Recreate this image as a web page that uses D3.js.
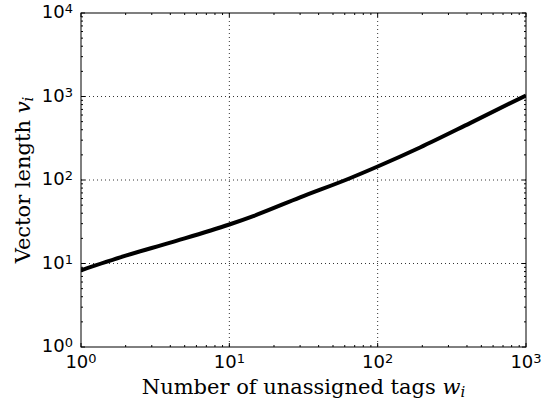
<!DOCTYPE html>
<html>
<head>
<meta charset="utf-8">
<script src="https://cdn.jsdelivr.net/npm/d3@7"></script>
<style>
  html, body { margin: 0; padding: 0; background: #fff; }
  svg { display: block; }
</style>
</head>
<body>
<svg id="chart" width="552" height="409"></svg>
<script>
// ---- data ----
const wValues = [1, 2, 4, 10, 14.5, 30, 65, 100, 193, 420, 1000];
const vValues = [8.3, 12.4, 17.8, 29.3, 37, 62, 105, 145, 245, 480, 1030];
const xTickExps = [0, 1, 2, 3];
const yTickExps = [0, 1, 2, 3, 4];
const xLabelText = "Number of unassigned tags ";
const yLabelText = "Vector length ";

const svg = d3.select("#chart");
const pL = 81, pR = 526, pT = 13, pB = 347;

const x = d3.scaleLog().domain([1, 1000]).range([pL, pR]);
const y = d3.scaleLog().domain([1, 10000]).range([pB, pT]);

function minors(maxExp) {
  const out = [];
  for (let e = 0; e < maxExp; e++) for (let m = 2; m <= 9; m++) out.push(m * Math.pow(10, e));
  return out;
}
const xMajor = xTickExps.map(e => Math.pow(10, e));
const yMajor = yTickExps.map(e => Math.pow(10, e));
const xMinor = minors(3);
const yMinor = minors(4);

// grid (dotted)
const grid = svg.append("g").attr("stroke", "#000").attr("stroke-width", 0.8)
  .attr("stroke-dasharray", "1,3").attr("fill", "none");
xMajor.slice(1, -1).forEach(v => {
  grid.append("line").attr("x1", x(v)).attr("x2", x(v)).attr("y1", pT).attr("y2", pB);
});
yMajor.slice(1, -1).forEach(v => {
  grid.append("line").attr("x1", pL).attr("x2", pR).attr("y1", y(v)).attr("y2", y(v));
});

// clip
svg.append("clipPath").attr("id", "clip").append("rect")
  .attr("x", pL).attr("y", pT - 2).attr("width", pR - pL).attr("height", pB - pT + 4);

// data line
const line = d3.line().x((d, i) => x(wValues[i])).y((d, i) => y(vValues[i])).curve(d3.curveMonotoneX);
svg.append("path").datum(wValues).attr("d", line)
  .attr("fill", "none").attr("stroke", "#000").attr("stroke-width", 4)
  .attr("stroke-linejoin", "round").attr("clip-path", "url(#clip)");

// ticks on all four sides, inward
const ticks = svg.append("g").attr("stroke", "#000").attr("stroke-width", 1);
function tickX(v, len) {
  ticks.append("line").attr("x1", x(v)).attr("x2", x(v)).attr("y1", pB).attr("y2", pB - len);
  ticks.append("line").attr("x1", x(v)).attr("x2", x(v)).attr("y1", pT).attr("y2", pT + len);
}
function tickY(v, len) {
  ticks.append("line").attr("x1", pL).attr("x2", pL + len).attr("y1", y(v)).attr("y2", y(v));
  ticks.append("line").attr("x1", pR).attr("x2", pR - len).attr("y1", y(v)).attr("y2", y(v));
}
xMajor.forEach(v => tickX(v, 4));
xMinor.forEach(v => tickX(v, 2));
yMajor.forEach(v => tickY(v, 4));
yMinor.forEach(v => tickY(v, 2));

// frame
svg.append("rect").attr("x", pL).attr("y", pT).attr("width", pR - pL).attr("height", pB - pT)
  .attr("fill", "none").attr("stroke", "#000").attr("stroke-width", 1);

// tick labels
const font = "'DejaVu Sans', sans-serif";
xTickExps.forEach(e => {
  const t = svg.append("text").attr("x", x(Math.pow(10, e))).attr("y", 368)
    .attr("text-anchor", "middle").attr("font-family", font).attr("font-size", 18).attr("fill", "#000");
  t.append("tspan").text("10");
  t.append("tspan").attr("dy", -5).attr("font-size", 13).text(e);
});
yTickExps.forEach(e => {
  const t = svg.append("text").attr("x", 73).attr("y", y(Math.pow(10, e)) + 5)
    .attr("text-anchor", "end").attr("font-family", font).attr("font-size", 18).attr("fill", "#000");
  t.append("tspan").text("10");
  t.append("tspan").attr("dy", -5).attr("font-size", 13).text(e);
});

// axis labels
const serif = "'DejaVu Serif', serif";
const xl = svg.append("text").attr("x", (pL + pR) / 2).attr("y", 394)
  .attr("text-anchor", "middle").attr("font-family", serif).attr("font-size", 21).attr("fill", "#000");
xl.append("tspan").text(xLabelText);
xl.append("tspan").attr("font-style", "italic").text("w");
xl.append("tspan").attr("font-style", "italic").attr("font-size", 15).attr("dy", 3).text("i");

const yl = svg.append("text").attr("transform", `translate(30,${(pT + pB) / 2}) rotate(-90)`)
  .attr("text-anchor", "middle").attr("font-family", serif).attr("font-size", 21).attr("fill", "#000");
yl.append("tspan").text(yLabelText);
yl.append("tspan").attr("font-style", "italic").text("v");
yl.append("tspan").attr("font-style", "italic").attr("font-size", 15).attr("dy", 3).text("i");
</script>
</body>
</html>
